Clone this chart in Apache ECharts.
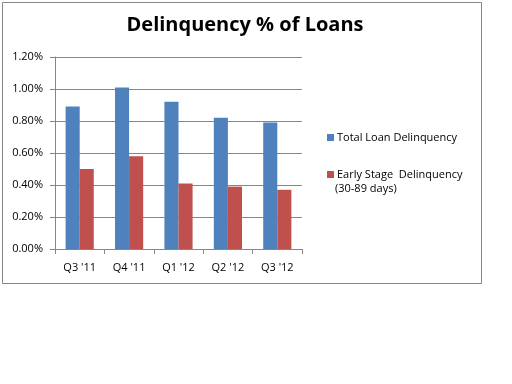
<!DOCTYPE html>
<html><head><meta charset="utf-8">
<script src="https://cdn.jsdelivr.net/npm/echarts@6/dist/echarts.min.js"></script>
<style>html,body{margin:0;padding:0;background:#fff}#c{width:512px;height:384px}</style>
</head><body><div id="c"></div>
<script>
var categories = ["Q3 '11", "Q4 '11", "Q1 '12", "Q2 '12", "Q3 '12"];
var totalDelinquency = [0.89, 1.01, 0.92, 0.82, 0.79];
var earlyDelinquency = [0.50, 0.58, 0.41, 0.39, 0.37];
var yTicks = [0, 0.2, 0.4, 0.6, 0.8, 1.0, 1.2];
var seriesNames = ["Total Loan Delinquency", "Early Stage  Delinquency"];
var font = "Open Sans";
var chart = echarts.init(document.getElementById('c'));
chart.setOption({
  animation: false,
  backgroundColor: '#fff',
  title: {text: 'Delinquency % of Loans', left: 240, top: 10, textAlign: 'center',
    textStyle: {fontFamily: font, fontSize: 20, fontWeight: 'bold', color: '#000'}},
  graphic: [
    {type: 'rect', shape: {x: 2.5, y: 2.5, width: 479, height: 281}, style: {fill: 'none', stroke: '#868686', lineWidth: 1}, silent: true},
    {type: 'text', left: 335, top: 183, style: {text: '(30-89 days)', font: '11px "Open Sans"', fill: '#000'}}
  ],
  legend: {orient: 'vertical', left: 322, top: 127, itemWidth: 7, itemHeight: 7, itemGap: 26, icon: 'rect',
    textStyle: {fontFamily: font, fontSize: 11, color: '#000', padding: [0, 0, 0, -2]},
    data: seriesNames},
  grid: {left: 55, right: 210, top: 57, bottom: 135},
  xAxis: {type: 'category', data: categories,
    axisLine: {lineStyle: {color: '#868686'}},
    axisTick: {show: true, lineStyle: {color: '#868686'}, length: 5},
    axisLabel: {fontFamily: font, fontSize: 11, color: '#000', margin: 13}},
  yAxis: {type: 'value', min: 0, max: 1.2, interval: 0.2,
    axisLine: {show: true, lineStyle: {color: '#868686'}},
    axisTick: {show: true, lineStyle: {color: '#868686'}, length: 5},
    splitLine: {lineStyle: {color: '#868686'}},
    axisLabel: {fontFamily: font, fontSize: 11, color: '#000', margin: 12,
      formatter: function (v) { return v.toFixed(2) + '%'; }}},
  series: [
    {name: seriesNames[0], type: 'bar', data: totalDelinquency, itemStyle: {color: '#4f81bd'}, barGap: '0%', barCategoryGap: '43%'},
    {name: seriesNames[1], type: 'bar', data: earlyDelinquency, itemStyle: {color: '#c0504d'}}
  ]
});
</script></body></html>
